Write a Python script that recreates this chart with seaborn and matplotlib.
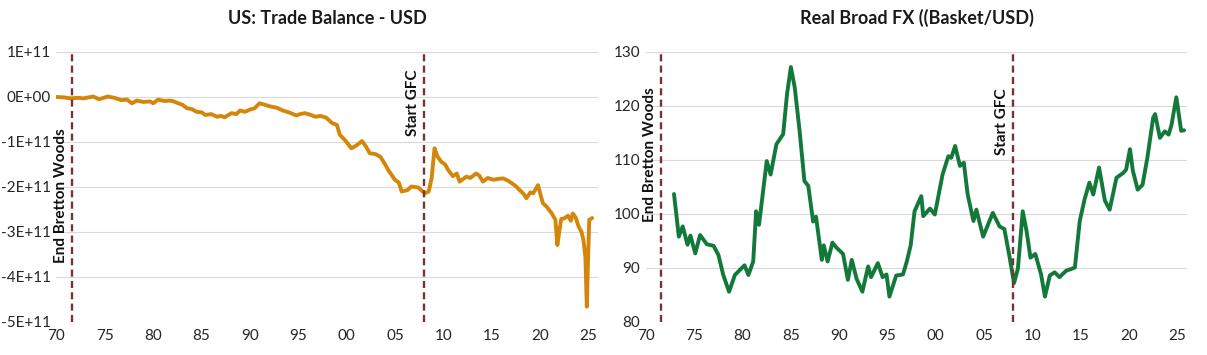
import numpy as np
import pandas as pd
import seaborn as sns
import matplotlib
matplotlib.use('Agg')
import matplotlib.pyplot as plt
from matplotlib.ticker import FuncFormatter, MultipleLocator, FixedLocator

#######################################################
### DATA
#######################################################
# US trade balance, USD billions
tb_years = [1970.0, 1970.8, 1971.4, 1972.2, 1972.8, 1973.8, 1974.4, 1975.3, 1976.0, 1976.7,
            1977.3, 1977.8, 1978.3, 1979.0, 1979.7, 1980.0, 1980.5, 1981.2, 1981.7, 1982.0,
            1982.6, 1983.0, 1983.5, 1984.0, 1984.5, 1985.0, 1985.4, 1986.0, 1986.6, 1987.0,
            1987.4, 1988.1, 1988.6, 1989.0, 1989.5, 1990.0, 1990.5, 1991.0, 1991.5, 1992.1,
            1992.8, 1993.4, 1994.0, 1994.8, 1995.2, 1995.7, 1996.3, 1996.8, 1997.3, 1997.9,
            1998.5, 1999.0, 1999.3, 1999.8, 2000.5, 2001.0, 2001.6, 2002.0, 2002.4, 2003.0,
            2003.5, 2004.0, 2004.3, 2005.0, 2005.4, 2005.7, 2006.3, 2006.7, 2007.4, 2008.1,
            2008.5, 2008.8, 2009.1, 2009.4, 2009.8, 2010.2, 2010.5, 2011.0, 2011.4, 2011.7,
            2012.4, 2012.8, 2013.4, 2013.7, 2014.1, 2014.6, 2015.2, 2015.7, 2016.2, 2016.7,
            2017.1, 2017.5, 2017.9, 2018.3, 2018.6, 2019.0, 2019.3, 2019.8, 2020.3, 2020.7,
            2021.2, 2021.6, 2021.8, 2022.0, 2022.2, 2022.5, 2022.9, 2023.2, 2023.4, 2023.7,
            2024.0, 2024.3, 2024.5, 2024.7, 2024.85, 2024.95, 2025.1, 2025.4]
tb_values = [0, -1, -3, -2, -3, 1, -5, 1, -2, -7,
             -6, -14, -8, -11, -10, -14, -6, -9, -8, -9,
             -14, -17, -25, -27, -33, -34, -40, -38, -44, -42,
             -45, -36, -38, -30, -33, -28, -25, -14, -17, -21,
             -24, -30, -34, -41, -38, -36, -40, -44, -42, -46,
             -58, -62, -84, -95, -114, -108, -98, -110, -125, -127,
             -133, -150, -162, -184, -190, -210, -207, -199, -201, -214,
             -210, -180, -114, -132, -144, -150, -162, -176, -170, -188,
             -177, -180, -170, -174, -188, -180, -184, -182, -181, -186,
             -192, -198, -207, -215, -225, -212, -214, -196, -236, -244,
             -258, -273, -329, -300, -271, -270, -264, -275, -259, -268,
             -288, -300, -318, -355, -466, -380, -273, -269]

# Real broad FX (Basket/USD)
fx_years = [1972.9, 1973.4, 1973.8, 1974.3, 1974.6, 1975.1, 1975.6, 1976.3, 1977.0, 1977.5,
            1978.0, 1978.6, 1979.2, 1979.7, 1980.2, 1980.6, 1981.1, 1981.4, 1981.7, 1982.5,
            1982.9, 1983.5, 1984.2, 1984.6, 1985.0, 1985.4, 1985.9, 1986.4, 1986.8, 1987.3,
            1987.6, 1988.2, 1988.4, 1988.8, 1989.3, 1989.7, 1990.4, 1990.9, 1991.3, 1991.8,
            1992.4, 1993.0, 1993.3, 1994.0, 1994.5, 1994.9, 1995.2, 1995.9, 1996.6, 1997.0,
            1997.4, 1997.8, 1998.5, 1998.7, 1999.4, 1999.9, 2000.7, 2001.3, 2001.6, 2002.0,
            2002.5, 2002.9, 2003.3, 2003.9, 2004.2, 2004.9, 2005.9, 2006.6, 2007.1, 2007.6,
            2008.1, 2008.5, 2009.0, 2009.4, 2009.8, 2010.3, 2010.9, 2011.3, 2011.8, 2012.3,
            2012.8, 2013.5, 2014.0, 2014.4, 2014.9, 2015.4, 2015.9, 2016.3, 2016.9, 2017.5,
            2018.0, 2018.7, 2019.4, 2019.7, 2020.1, 2020.4, 2020.9, 2021.4, 2021.9, 2022.5,
            2022.7, 2023.2, 2023.7, 2024.1, 2024.4, 2024.9, 2025.4, 2025.7]
fx_values = [103.7, 95.8, 97.7, 94.3, 96.0, 92.7, 96.1, 94.4, 94.1, 92.4,
             88.7, 85.6, 88.7, 89.6, 90.5, 88.7, 91.2, 100.5, 98.0, 109.8,
             107.3, 112.9, 114.8, 122.2, 127.2, 123.4, 115.4, 106.1, 105.2, 98.6,
             99.5, 91.5, 94.2, 91.2, 94.7, 93.8, 92.6, 87.8, 91.5, 88.0,
             85.6, 90.3, 88.3, 90.9, 88.3, 88.8, 84.7, 88.6, 88.8, 91.2,
             94.2, 100.5, 103.3, 99.6, 101.0, 99.9, 107.3, 110.7, 110.4, 112.6,
             108.9, 109.5, 103.6, 98.7, 100.8, 95.8, 100.2, 97.7, 97.2, 92.4,
             87.2, 89.9, 100.5, 96.8, 91.9, 92.6, 88.8, 84.7, 88.6, 89.2,
             88.3, 89.5, 89.8, 90.1, 98.7, 102.7, 105.8, 103.6, 108.6, 102.5,
             100.8, 106.7, 107.6, 108.2, 112.0, 108.0, 104.5, 105.4, 110.4, 117.8,
             118.5, 114.1, 115.3, 114.7, 116.5, 121.6, 115.4, 115.5]

events = ['End Bretton Woods', 'Start GFC']
event_years = [1971.6, 2008.0]

df_tb = pd.DataFrame({'year': tb_years, 'value': np.array(tb_values) * 1e9})
df_fx = pd.DataFrame({'year': fx_years, 'value': fx_values})

#######################################################
### PLOT
#######################################################
sns.set_style('white')
plt.rcParams['font.family'] = ['Lato', 'DejaVu Sans']

fig = plt.figure(figsize=(12.07, 3.55), dpi=100)
ax1 = fig.add_axes([0.0468, 0.093, 0.4486, 0.7606])
ax2 = fig.add_axes([0.5352, 0.093, 0.4482, 0.7606])

sns.lineplot(data=df_tb, x='year', y='value', ax=ax1, color='#D4860B', linewidth=2.8)
sns.lineplot(data=df_fx, x='year', y='value', ax=ax2, color='#13793B', linewidth=2.8)

panels = [
    (ax1, 'US: Trade Balance - USD', (-5e11, 1e11), 1e11,
     FuncFormatter(lambda v, p: format(v, '.0E')), [-2.2e11, -0.12e11]),
    (ax2, 'Real Broad FX ((Basket/USD)', (80, 130), 10,
     FuncFormatter(lambda v, p: '%d' % v), [110.9, 117.1]),
]

for ax, title, ylim, ystep, yfmt, text_y in panels:
    ax.set_xlim(1970, 2026)
    ax.set_ylim(*ylim)
    ax.xaxis.set_major_locator(MultipleLocator(5))
    ax.xaxis.set_minor_locator(FixedLocator([1980, 1990, 2000, 2010, 2020]))
    ax.xaxis.set_major_formatter(FuncFormatter(lambda v, p: '%02d' % (int(round(v)) % 100)))
    ax.yaxis.set_major_locator(MultipleLocator(ystep))
    ax.yaxis.set_major_formatter(yfmt)
    ax.grid(False)
    ax.grid(True, axis='y', which='major', color='#D9D9D9', linewidth=0.8)
    ax.grid(True, axis='x', which='minor', color='#E6E6E6', linewidth=0.8)
    ax.tick_params(axis='both', which='both', length=0, labelsize=11, colors='#262626')
    ax.tick_params(axis='y', pad=4)
    ax.tick_params(axis='x', pad=5)
    for s in ax.spines.values():
        s.set_visible(False)
    ax.set_xlabel('')
    ax.set_ylabel('')
    ax.set_title(title, fontsize=13, fontweight='bold', pad=20, color='#1a1a1a')

    for name, yr, ty in zip(events, event_years, text_y):
        ax.axvline(yr, color='#7B3232', linewidth=1.7, linestyle=(0, (3, 1.8)), zorder=3)
        ax.annotate(name, xy=(yr, ty), xytext=(-3, 0), textcoords='offset points',
                    rotation=90, ha='right', va='center', fontsize=11,
                    fontweight='bold', color='#111111')

fig.savefig('out.png', dpi=100)
